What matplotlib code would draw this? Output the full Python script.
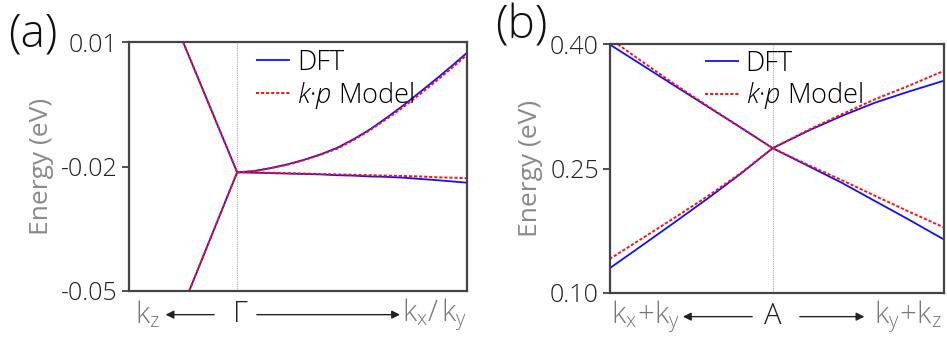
import matplotlib
matplotlib.use("Agg")
import matplotlib.pyplot as plt
import numpy as np

# fonts: thin sans to look like the original
plt.rcParams['font.family'] = ['Open Sans', 'DejaVu Sans']
plt.rcParams['font.weight'] = 'light'
plt.rcParams['mathtext.fontset'] = 'custom'
plt.rcParams['mathtext.rm'] = 'Open Sans:light'
plt.rcParams['mathtext.it'] = 'Open Sans:italic:light'

# ---- panel (a) data: Gamma point ----
ka_left_up = [-0.16, 0.0]
Ea_left_up = [0.010, -0.0214]
ka_left_dn = [-0.142, 0.0]
Ea_left_dn = [-0.050, -0.0214]

ka_right = [0.0, 0.05, 0.0985, 0.148, 0.197, 0.246, 0.296, 0.345, 0.394, 0.443, 0.493, 0.542, 0.592, 0.636, 0.68]
Ea_up_dft = [-0.0214, -0.0211, -0.0204, -0.0195, -0.0184, -0.0171, -0.0155, -0.0134, -0.0110, -0.0082, -0.0052, -0.0020, 0.0013, 0.0043, 0.0074]
Ea_up_kp = [-0.0214, -0.0211, -0.0204, -0.0196, -0.0185, -0.0172, -0.0157, -0.0136, -0.0112, -0.0085, -0.0056, -0.0025, 0.0008, 0.0038, 0.0069]
Ea_dn_dft = [-0.0214, -0.0215, -0.0216, -0.0217, -0.0218, -0.0219, -0.0221, -0.0222, -0.0224, -0.0225, -0.0227, -0.0230, -0.0233, -0.0236, -0.0239]
Ea_dn_kp = [-0.0214, -0.0214, -0.0215, -0.0216, -0.0217, -0.0218, -0.0219, -0.0220, -0.0221, -0.0222, -0.0223, -0.0224, -0.0226, -0.0227, -0.0228]

# ---- panel (b) data: A point ----
kb_left = [-0.488, -0.3934, -0.2934, -0.1937, -0.094, 0.0]
Eb_left_up_dft = [0.3995, 0.3753, 0.3497, 0.3243, 0.2989, 0.2745]
Eb_left_up_kp = [0.4067, 0.3795, 0.3515, 0.3250, 0.2991, 0.2745]
Eb_left_dn_dft = [0.1298, 0.1566, 0.1852, 0.2141, 0.2442, 0.2745]
Eb_left_dn_kp = [0.1410, 0.1651, 0.1907, 0.2169, 0.2449, 0.2745]

kb_right = [0.0, 0.1066, 0.2066, 0.3063, 0.406, 0.513]
Eb_right_up_dft = [0.2745, 0.2955, 0.3133, 0.3293, 0.3425, 0.3558]
Eb_right_up_kp = [0.2745, 0.2964, 0.3153, 0.3334, 0.3494, 0.3677]
Eb_right_dn_dft = [0.2745, 0.2530, 0.2329, 0.2108, 0.1888, 0.1644]
Eb_right_dn_kp = [0.2745, 0.2542, 0.2361, 0.2171, 0.1984, 0.1790]

yticks_a = [-0.05, -0.02, 0.01]
yticks_b = [0.10, 0.25, 0.40]
yticklabels_a = ['-0.05', '-0.02', '0.01']
yticklabels_b = ['0.10', '0.25', '0.40']

blue = '#1010ff'
red = '#ff1010'
dft_kw = dict(color=blue, lw=1.3, solid_capstyle='butt')
kp_kw = dict(color=red, lw=1.4, ls=(0, (1.6, 1.0)))

fig = plt.figure(figsize=(9.47, 3.43), dpi=100)
axa = fig.add_axes([129/947, 1-291/343, 338/947, 249/343])
axb = fig.add_axes([610/947, 1-293/343, 334/947, 249/343])


def style_ax(ax, ticks, labels):
    for s in ax.spines.values():
        s.set_color('#444444')
        s.set_linewidth(1.6)
    ax.set_xticks([])
    ax.set_yticks(ticks)
    ax.set_yticklabels(labels)
    ax.tick_params(axis='y', direction='out', length=5, width=1.2, color='#333333',
                   labelsize=18, labelcolor='#222222', pad=3)
    ax.set_ylabel('Energy (eV)', fontsize=19, color='#8a8a8a', labelpad=5)


# panel (a)
axa.axvline(0, color='#aaaaaa', lw=0.8, ls=(0, (1, 1)))
axa.plot(ka_left_up, Ea_left_up, **dft_kw, label='DFT')
axa.plot(ka_left_dn, Ea_left_dn, **dft_kw)
axa.plot(ka_right, Ea_up_dft, **dft_kw)
axa.plot(ka_right, Ea_dn_dft, **dft_kw)
axa.plot(ka_left_up, Ea_left_up, **kp_kw, label=r'$\mathit{k}$·$\mathit{p}$ Model')
axa.plot(ka_left_dn, Ea_left_dn, **kp_kw)
axa.plot(ka_right, Ea_up_kp, **kp_kw)
axa.plot(ka_right, Ea_dn_kp, **kp_kw)
axa.set_xlim(-0.32, 0.68)
axa.set_ylim(-0.05, 0.01)
style_ax(axa, yticks_a, yticklabels_a)
axa.legend(loc='upper left', bbox_to_anchor=(0.345, 1.017), frameon=False, fontsize=19.5,
           handlelength=1.25, handletextpad=0.25, labelspacing=0.12, borderaxespad=0)

# panel (b)
axb.axvline(0, color='#aaaaaa', lw=0.8, ls=(0, (1, 1)))
axb.plot(kb_left, Eb_left_up_dft, **dft_kw, label='DFT')
axb.plot(kb_left, Eb_left_dn_dft, **dft_kw)
axb.plot(kb_right, Eb_right_up_dft, **dft_kw)
axb.plot(kb_right, Eb_right_dn_dft, **dft_kw)
axb.plot(kb_left, Eb_left_up_kp, **kp_kw, label=r'$\mathit{k}$·$\mathit{p}$ Model')
axb.plot(kb_left, Eb_left_dn_kp, **kp_kw)
axb.plot(kb_right, Eb_right_up_kp, **kp_kw)
axb.plot(kb_right, Eb_right_dn_kp, **kp_kw)
axb.set_xlim(-0.487, 0.513)
axb.set_ylim(0.10, 0.40)
style_ax(axb, yticks_b, yticklabels_b)
axb.legend(loc='upper left', bbox_to_anchor=(0.252, 1.02), frameon=False, fontsize=19.5,
           handlelength=1.25, handletextpad=0.25, labelspacing=0.08, borderaxespad=0)

# path labels under the axes
lab_kw = dict(fontsize=21, color='#777777', ha='center', va='center')
arr_kw = dict(arrowstyle='-|>', color='#222222', lw=1.0, mutation_scale=12)
ty = -0.095

axa.text(0.055, ty, r'$\mathrm{k}_\mathrm{z}$', transform=axa.transAxes, **lab_kw)
axa.text(0.33, ty, 'Γ', transform=axa.transAxes, fontsize=21, color='#222222', ha='center', va='center')
axa.text(0.905, ty, r'$\mathrm{k}_\mathrm{x}/\,\mathrm{k}_\mathrm{y}$', transform=axa.transAxes, **lab_kw)
axa.annotate('', xy=(0.10, ty), xytext=(0.26, ty), xycoords='axes fraction', arrowprops=arr_kw)
axa.annotate('', xy=(0.81, ty), xytext=(0.37, ty), xycoords='axes fraction', arrowprops=arr_kw)

axb.text(0.108, ty, r'$\mathrm{k}_\mathrm{x}\!+\!\mathrm{k}_\mathrm{y}$', transform=axb.transAxes, **lab_kw)
axb.text(0.488, ty, 'A', transform=axb.transAxes, fontsize=21, color='#222222', ha='center', va='center')
axb.text(0.892, ty, r'$\mathrm{k}_\mathrm{y}\!+\!\mathrm{k}_\mathrm{z}$', transform=axb.transAxes, **lab_kw)
axb.annotate('', xy=(0.21, ty), xytext=(0.434, ty), xycoords='axes fraction', arrowprops=arr_kw)
axb.annotate('', xy=(0.77, ty), xytext=(0.56, ty), xycoords='axes fraction', arrowprops=arr_kw)

# panel letters
fig.text(8/947, 1-34/343, '(a)', fontsize=33, color='#111111', va='center', ha='left')
fig.text(495/947, 1-26/343, '(b)', fontsize=33, color='#111111', va='center', ha='left')

fig.savefig('out.png', dpi=100)
